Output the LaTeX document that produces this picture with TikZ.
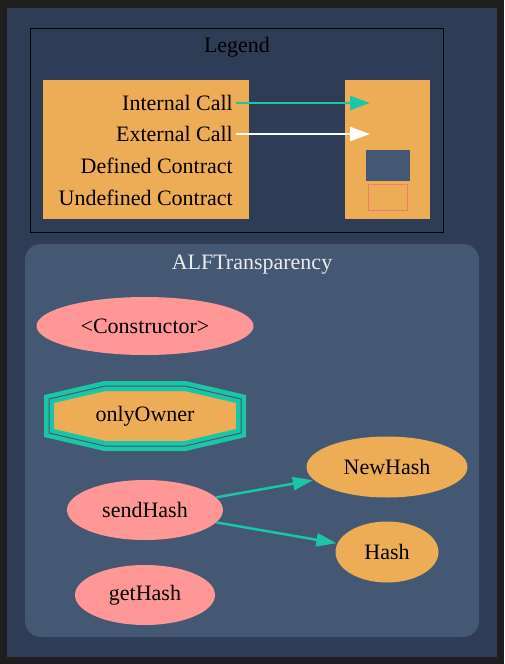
\documentclass[tikz,border=0pt]{standalone}
\usepackage{fontspec}
\setmainfont{Liberation Serif}
\usetikzlibrary{arrows.meta,shapes.geometric}
\definecolor{frameback}{HTML}{1E1E1E}
\definecolor{panelback}{HTML}{2E3D55}
\definecolor{clusterback}{HTML}{455873}
\definecolor{legendorange}{HTML}{EDAD56}
\definecolor{funcpink}{HTML}{FF9797}
\definecolor{callteal}{HTML}{1BC6A6}
\definecolor{undefred}{HTML}{EF7B71}
\def\octagonpath{(-40,-30) -- (40,-30) -- (96,-17) -- (96,17) -- (40,30) -- (-40,30) -- (-96,17) -- (-96,-17) -- cycle}
\tikzset{
  func/.style={ellipse, fill=funcpink, inner sep=0pt},
  extfunc/.style={ellipse, fill=legendorange, inner sep=0pt},
  intcall/.style={draw=callteal, line width=2.5pt, -{Triangle[length=20pt,width=14pt]}},
  extcall/.style={draw=white, line width=2.5pt, -{Triangle[length=20pt,width=14pt]}},
  graphcall/.style={draw=callteal, line width=2.5pt, -{Triangle[length=20pt,width=13pt]}, shorten >=1pt}
}
\begin{document}
\begin{tikzpicture}[x=1pt,y=-1pt,font=\fontsize{22}{26}\selectfont]
  \fill[frameback] (0,0) rectangle (504,664);
  \useasboundingbox (0,0) rectangle (504,664);
  \fill[panelback] (7,8) rectangle (497,657);
  \draw[black, line width=1pt] (30,28) rectangle (443,232);
  \node (legendtitle) at (237,47) {Legend};
  \fill[legendorange] (43,80) rectangle (249,219);
  \fill[legendorange] (345,80) rectangle (430,219);
  \foreach \name/\txt/\y in {intlabel/Internal Call/103, extlabel/External Call/134, deflabel/Defined Contract/166, undeflabel/Undefined Contract/198} {
    \node[anchor=east, inner sep=3pt] (\name) at (236,\y) {\txt};
  }
  \coordinate (intend) at (370,103);
  \coordinate (extend) at (370,134);
  \draw[intcall] (intlabel.east) -- (intend);
  \draw[extcall] (extlabel.east) -- (extend);
  \fill[clusterback] (366,150) rectangle (410,181);
  \draw[undefred, line width=1pt] (368,184) rectangle (407,210);

  \fill[clusterback, rounded corners=16pt] (25,244) rectangle (479,637);
  \node[text=white!92!black] (clustertitle) at (252,265) {ALFTransparency};

  \node[func, minimum width=217pt, minimum height=58pt] (constructor) at (145,326) {<Constructor>};
  \coordinate (onlyowner) at (145,416);
  \begin{scope}[shift={(onlyowner)}]
    \filldraw[fill=legendorange, draw=callteal, line width=10pt] \octagonpath;
    \draw[clusterback, line width=1pt] \octagonpath;
  \end{scope}
  \node (onlyownerlabel) at (onlyowner) {onlyOwner};
  \node[func, minimum width=156pt, minimum height=60pt] (sendhash) at (145,510) {sendHash};
  \node[func, minimum width=140pt, minimum height=60pt] (gethash) at (145,595) {getHash};
  \node[extfunc, minimum width=161pt, minimum height=61pt] (newhash) at (387,467) {NewHash};
  \node[extfunc, minimum width=103pt, minimum height=61pt] (hash) at (387,552) {Hash};
  \draw[graphcall] (sendhash) -- (newhash);
  \draw[graphcall] (sendhash) -- (hash);
\end{tikzpicture}
\end{document}
